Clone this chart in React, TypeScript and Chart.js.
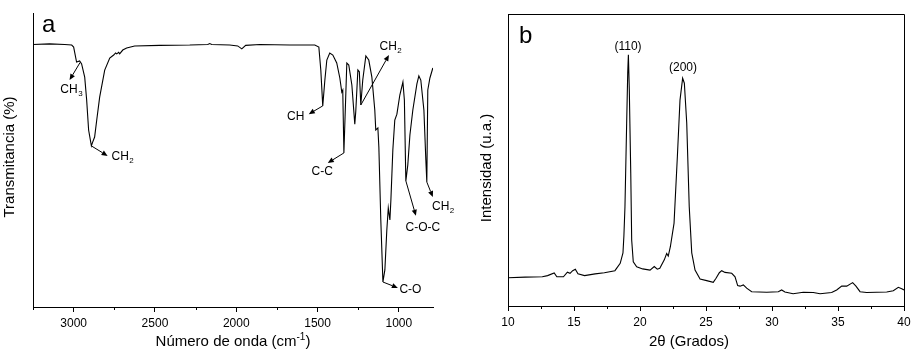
import React, { useEffect, useRef } from 'react';
import { Chart, registerables } from 'chart.js';

Chart.register(...registerables);

const FONT = '"Liberation Sans", Arial, Helvetica, sans-serif';

// ---------------- Panel a: FTIR ----------------
const ftirWavenumber = [
  3250, 3148, 3055, 3012, 3000, 2982, 2963, 2951, 2932, 2920, 2908, 2891, 2883, 2871, 2858, 2840,
  2809, 2778, 2754, 2742, 2735, 2723, 2717, 2698, 2674, 2625, 2471, 2286, 2175, 2163, 2151, 2040,
  1991, 1966, 1942, 1855, 1671, 1517, 1492, 1480, 1468, 1455, 1443, 1425, 1406, 1382, 1363, 1351,
  1345, 1338, 1320, 1308, 1289, 1271, 1265, 1252, 1243, 1234, 1222, 1203, 1185, 1166, 1148, 1142,
  1129, 1123, 1111, 1098, 1086, 1074, 1065, 1055, 1049, 1037, 1025, 1012, 994, 975, 966, 957,
  945, 932, 914, 889, 877, 865, 846, 834, 828, 822, 809, 791,
];
const ftirTransmittance = [
  89.3, 89.5, 89.3, 89.1, 88.4, 83.3, 83.7, 82.7, 78.2, 70.4, 60.2, 54.8, 56.1, 57.8, 63.6, 71.4,
  80.6, 84.7, 85.7, 86.4, 86.1, 86.6, 86.1, 87.4, 88.1, 88.8, 89.0, 89.1, 89.3, 89.6, 89.3, 89.1,
  88.8, 87.8, 89.0, 89.3, 89.1, 89.1, 88.4, 80.6, 68.4, 77.2, 84.0, 86.4, 85.7, 83.0, 77.9, 73.1,
  73.8, 52.4, 83.0, 82.3, 75.5, 62.2, 66.5, 80.6, 80.0, 68.7, 77.2, 85.4, 84.0, 78.2, 67.0, 60.2,
  60.9, 54.4, 29.6, 8.5, 12.6, 26.2, 33.7, 29.6, 36.4, 53.4, 63.6, 65.6, 72.1, 76.5, 70.4, 42.9,
  48.3, 58.5, 67.0, 75.9, 78.6, 77.2, 67.0, 50.0, 42.5, 73.8, 77.9, 81.3,
];
const ftirMajorTicks = [3000, 2500, 2000, 1500, 1000];
const ftirMinorTicks = [3250, 2750, 2250, 1750, 1250];

// band annotations (data units: wavenumber / transmittance)
const ftirBandLabels = ['CH', 'CH', 'CH', 'CH', 'C-C', 'C-O', 'C-O-C', 'CH'];
const ftirBandSubs = ['3', '2', '', '2', '', '', '', '2'];
const ftirBandWn = [2960, 2891, 1468, 1234, 1338, 1098, 957, 828];
const ftirBandT = [83.2, 54.8, 68.4, 68.7, 52.4, 8.5, 42.9, 42.5];
const ftirArrowWn = [3025, 2791, 1554, 1061, 1437, 1006, 895, 791];
const ftirArrowT = [77.2, 51.4, 65.6, 85.7, 49.0, 6.5, 31.0, 37.4];
const ftirTextWn = [3015, 2700, 1634, 1052, 1471, 929, 852, 729];
const ftirTextT = [73.8, 51.0, 64.6, 88.4, 45.9, 6.0, 27.1, 34.1];

// ---------------- Panel b: XRD ----------------
const xrdAngle = [
  10, 11.3, 12.6, 13.0, 13.5, 13.7, 14.2, 14.5, 14.7, 14.9, 15.1, 15.3, 15.8, 16.6, 17.3, 18.1,
  18.5, 18.71, 18.78, 18.86, 18.99, 19.07, 19.12, 19.19, 19.3, 19.37, 19.49, 19.75, 20.2, 20.76,
  21.08, 21.31, 21.5, 21.84, 22.02, 22.14, 22.3, 22.58, 22.83, 23.03, 23.23, 23.36, 23.54, 23.73,
  23.92, 24.17, 24.55, 25.05, 25.55, 25.76, 26.01, 26.19, 26.44, 26.95, 27.2, 27.4, 27.58, 27.83,
  28.08, 28.46, 29.6, 30.48, 30.73, 30.98, 31.6, 32.37, 33.13, 33.64, 34.52, 34.9, 35.28, 35.66,
  36.11, 36.36, 36.67, 37.17, 38.69, 39.19, 39.57, 39.83, 40,
];
const xrdIntensity = [
  9.7, 9.9, 10.0, 10.4, 11.3, 10.0, 10.0, 11.6, 11.2, 12.1, 12.6, 11.0, 10.4, 11.0, 11.4, 12.1,
  14.6, 18.2, 24.0, 33.9, 62.7, 79.8, 86.0, 74.0, 45.5, 22.6, 15.1, 13.4, 12.7, 12.3,
  13.5, 12.6, 12.9, 15.8, 18.0, 17.1, 20.3, 28.4, 51.1, 70.5, 78.0, 76.3, 62.7, 34.0,
  18.2, 12.3, 9.2, 8.7, 8.1, 9.5, 11.4, 12.1, 11.5, 11.2, 10.0, 7.0, 6.8, 7.2,
  6.1, 4.9, 4.7, 4.9, 5.5, 4.8, 4.2, 4.7, 4.6, 4.2, 4.6, 5.5, 6.8, 6.8,
  8.0, 6.8, 4.9, 4.6, 4.8, 5.2, 6.4, 5.9, 5.5,
];
const xrdMajorTicks = [10, 15, 20, 25, 30, 35, 40];
const xrdMinorTicks = [12.5, 17.5, 22.5, 27.5, 32.5, 37.5];
const xrdPeakLabels = ['(110)', '(200)'];
const xrdPeakAngle = [19.09, 23.26];
const xrdPeakIntensity = [88.7, 81.5];

// ---------------- helpers ----------------
function drawArrow(ctx: CanvasRenderingContext2D, x1: number, y1: number, x2: number, y2: number) {
  const ang = Math.atan2(y2 - y1, x2 - x1);
  const head = 6;
  const hw = 2.6;
  const bx = x2 - head * Math.cos(ang);
  const by = y2 - head * Math.sin(ang);
  ctx.beginPath();
  ctx.moveTo(x1, y1);
  ctx.lineTo(bx, by);
  ctx.stroke();
  ctx.beginPath();
  ctx.moveTo(x2, y2);
  ctx.lineTo(bx + hw * Math.sin(ang), by - hw * Math.cos(ang));
  ctx.lineTo(bx - hw * Math.sin(ang), by + hw * Math.cos(ang));
  ctx.closePath();
  ctx.fill();
}

function drawSubText(ctx: CanvasRenderingContext2D, main: string, sub: string, cx: number, cy: number) {
  ctx.font = `12px ${FONT}`;
  const wm = ctx.measureText(main).width;
  ctx.font = `8px ${FONT}`;
  const ws = sub ? ctx.measureText(sub).width : 0;
  const start = cx - (wm + ws) / 2;
  ctx.textAlign = 'left';
  ctx.textBaseline = 'middle';
  ctx.font = `12px ${FONT}`;
  ctx.fillText(main, start, cy);
  if (sub) {
    ctx.font = `8px ${FONT}`;
    ctx.fillText(sub, start + wm + 0.5, cy + 4);
  }
}

function drawMinorTicks(ctx: CanvasRenderingContext2D, chart: any, values: number[]) {
  const x = chart.scales.x;
  const bottom = chart.chartArea.bottom;
  ctx.strokeStyle = '#000';
  ctx.lineWidth = 1;
  for (const v of values) {
    const px = Math.round(x.getPixelForValue(v)) + 0.5;
    ctx.beginPath();
    ctx.moveTo(px, bottom);
    ctx.lineTo(px, bottom + 3);
    ctx.stroke();
  }
}

const decorA = {
  id: 'decorA',
  afterDraw(chart: any) {
    const { ctx, chartArea } = chart;
    const xs = chart.scales.x;
    const ys = chart.scales.y;
    ctx.save();
    drawMinorTicks(ctx, chart, ftirMinorTicks);

    ctx.fillStyle = '#000';
    ctx.strokeStyle = '#000';
    ctx.lineWidth = 1;
    for (let i = 0; i < ftirBandLabels.length; i++) {
      const x1 = xs.getPixelForValue(ftirBandWn[i]);
      const y1 = ys.getPixelForValue(ftirBandT[i]);
      const x2 = xs.getPixelForValue(ftirArrowWn[i]);
      const y2 = ys.getPixelForValue(ftirArrowT[i]);
      drawArrow(ctx, x1, y1, x2, y2);
      drawSubText(ctx, ftirBandLabels[i], ftirBandSubs[i], xs.getPixelForValue(ftirTextWn[i]), ys.getPixelForValue(ftirTextT[i]));
    }

    // panel letter
    ctx.font = `24px ${FONT}`;
    ctx.textAlign = 'left';
    ctx.textBaseline = 'alphabetic';
    ctx.fillText('a', chartArea.left + 9, chartArea.top + 19);

    // y title
    ctx.font = `15px ${FONT}`;
    ctx.save();
    ctx.translate(10, (chartArea.top + chartArea.bottom) / 2 - 3);
    ctx.rotate(-Math.PI / 2);
    ctx.textAlign = 'center';
    ctx.textBaseline = 'middle';
    ctx.fillText('Transmitancia (%)', 0, 0);
    ctx.restore();

    // x title with superscript
    const cx = (chartArea.left + chartArea.right) / 2;
    const cy = chartArea.bottom + 35;
    const p1 = 'Número de onda (cm';
    const sup = '-1';
    const p3 = ')';
    ctx.font = `15px ${FONT}`;
    const w1 = ctx.measureText(p1).width;
    const w3 = ctx.measureText(p3).width;
    ctx.font = `10px ${FONT}`;
    const w2 = ctx.measureText(sup).width;
    let sx = cx - (w1 + w2 + w3) / 2;
    ctx.textAlign = 'left';
    ctx.textBaseline = 'middle';
    ctx.font = `15px ${FONT}`;
    ctx.fillText(p1, sx, cy);
    sx += w1;
    ctx.font = `10px ${FONT}`;
    ctx.fillText(sup, sx, cy - 5);
    sx += w2;
    ctx.font = `15px ${FONT}`;
    ctx.fillText(p3, sx, cy);
    ctx.restore();
  },
};

const decorB = {
  id: 'decorB',
  afterDraw(chart: any) {
    const { ctx, chartArea } = chart;
    const xs = chart.scales.x;
    const ys = chart.scales.y;
    ctx.save();
    drawMinorTicks(ctx, chart, xrdMinorTicks);

    // top and right frame lines
    ctx.strokeStyle = '#000';
    ctx.lineWidth = 1;
    ctx.beginPath();
    ctx.moveTo(chartArea.left, chartArea.top + 0.5);
    ctx.lineTo(chartArea.right + 0.5, chartArea.top + 0.5);
    ctx.lineTo(chartArea.right + 0.5, chartArea.bottom + 0.5);
    ctx.stroke();

    ctx.fillStyle = '#000';
    ctx.font = `12px ${FONT}`;
    ctx.textAlign = 'center';
    ctx.textBaseline = 'middle';
    for (let i = 0; i < xrdPeakLabels.length; i++) {
      ctx.fillText(xrdPeakLabels[i], xs.getPixelForValue(xrdPeakAngle[i]), ys.getPixelForValue(xrdPeakIntensity[i]));
    }

    ctx.font = `24px ${FONT}`;
    ctx.textAlign = 'left';
    ctx.textBaseline = 'alphabetic';
    ctx.fillText('b', chartArea.left + 11, chartArea.top + 29);

    ctx.font = `15px ${FONT}`;
    ctx.save();
    ctx.translate(27, (chartArea.top + chartArea.bottom) / 2 + 8);
    ctx.rotate(-Math.PI / 2);
    ctx.textAlign = 'center';
    ctx.textBaseline = 'middle';
    ctx.fillText('Intensidad (u.a.)', 0, 0);
    ctx.restore();

    ctx.font = `15px ${FONT}`;
    ctx.textAlign = 'center';
    ctx.textBaseline = 'middle';
    ctx.fillText('2θ (Grados)', (chartArea.left + chartArea.right) / 2 - 17, chartArea.bottom + 36);
    ctx.restore();
  },
};

function baseXScale(min: number, max: number, majors: number[], reverse: boolean, height: number) {
  return {
    type: 'linear' as const,
    reverse,
    min,
    max,
    afterFit: (s: any) => {
      s.height = height;
    },
    afterBuildTicks: (s: any) => {
      s.ticks = majors.map((value) => ({ value }));
    },
    ticks: {
      autoSkip: false,
      maxRotation: 0,
      color: '#000',
      padding: 4,
      font: { family: FONT, size: 12 },
      callback: (v: any) => String(v),
    },
    grid: { display: true, drawOnChartArea: false, drawTicks: true, tickLength: 5, color: '#000', lineWidth: 1 },
    border: { display: true, color: '#000', width: 1 },
  };
}

function baseYScale(width: number) {
  return {
    type: 'linear' as const,
    min: 0,
    max: 100,
    afterFit: (s: any) => {
      s.width = width;
    },
    ticks: { display: false },
    grid: { display: false },
    border: { display: true, color: '#000', width: 1 },
  };
}

function makeFtirConfig(): any {
  return {
    type: 'line',
    data: {
      datasets: [
        {
          data: ftirWavenumber.map((x, i) => ({ x, y: ftirTransmittance[i] })),
          borderColor: '#000',
          borderWidth: 1.1,
          pointRadius: 0,
          tension: 0,
          fill: false,
        },
      ],
    },
    options: {
      animation: false,
      responsive: false,
      devicePixelRatio: 1,
      events: [],
      layout: { padding: { left: 0, top: 13, right: 27, bottom: 0 } },
      plugins: { legend: { display: false }, tooltip: { enabled: false } },
      scales: {
        x: baseXScale(790, 3250, ftirMajorTicks, true, 47),
        y: baseYScale(33),
      },
    },
    plugins: [decorA],
  };
}

function makeXrdConfig(): any {
  return {
    type: 'line',
    data: {
      datasets: [
        {
          data: xrdAngle.map((x, i) => ({ x, y: xrdIntensity[i] })),
          borderColor: '#000',
          borderWidth: 1.1,
          pointRadius: 0,
          tension: 0,
          fill: false,
        },
      ],
    },
    options: {
      animation: false,
      responsive: false,
      devicePixelRatio: 1,
      events: [],
      layout: { padding: { left: 0, top: 14, right: 12, bottom: 0 } },
      plugins: { legend: { display: false }, tooltip: { enabled: false } },
      scales: {
        x: baseXScale(10, 40, xrdMajorTicks, false, 48),
        y: baseYScale(48),
      },
    },
    plugins: [decorB],
  };
}

function ChartCanvas(props: { make: () => any; width: number; height: number; left: number }) {
  const ref = useRef<HTMLCanvasElement>(null);
  useEffect(() => {
    if (!ref.current) return;
    const chart = new Chart(ref.current, props.make());
    return () => chart.destroy();
  }, []);
  return (
    <canvas
      ref={ref}
      width={props.width}
      height={props.height}
      style={{ position: 'absolute', left: props.left, top: 0, width: props.width, height: props.height }}
    />
  );
}

export default function App() {
  return (
    <div style={{ position: 'fixed', left: 0, top: 0, width: 916, height: 354, background: '#fff', overflow: 'hidden' }}>
      <ChartCanvas make={makeFtirConfig} width={460} height={354} left={0} />
      <ChartCanvas make={makeXrdConfig} width={456} height={354} left={460} />
    </div>
  );
}
